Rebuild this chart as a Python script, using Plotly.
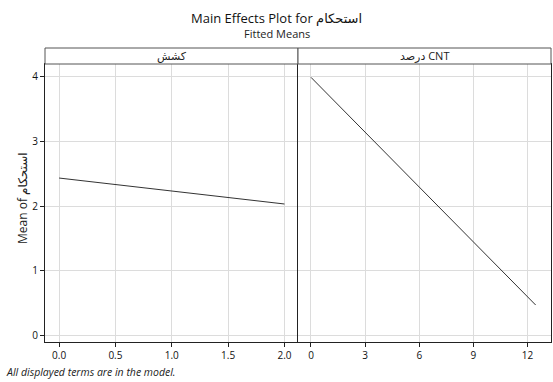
import plotly.graph_objects as go
from plotly.subplots import make_subplots

# Data
kashesh_levels = [0.0, 2.0]
kashesh_means = [2.435, 2.034]
cnt_levels = [0.0, 12.45]
cnt_means = [3.99, 0.474]

panel_titles = ["کشش", "درصد CNT"]
left_ticks = [0.0, 0.5, 1.0, 1.5, 2.0]
left_ticktext = ["0.0", "0.5", "1.0", "1.5", "2.0"]
right_ticks = [0, 3, 6, 9, 12]
y_ticks = [0, 1, 2, 3, 4]

FONT = "Open Sans, DejaVu Sans, sans-serif"
W, H = 553, 382
ML, MR, MT, MB = 45, 2, 64, 40
PH = H - MT - MB

fig = make_subplots(rows=1, cols=2, shared_yaxes=True, horizontal_spacing=0)

fig.add_trace(go.Scatter(x=kashesh_levels, y=kashesh_means, mode="lines",
                         line=dict(color="#333333", width=1), showlegend=False), row=1, col=1)
fig.add_trace(go.Scatter(x=cnt_levels, y=cnt_means, mode="lines",
                         line=dict(color="#333333", width=1), showlegend=False), row=1, col=2)

axis_common = dict(showline=True, linecolor="#222222", linewidth=1, mirror=True,
                   showgrid=True, gridcolor="#dcdcdc", gridwidth=1, zeroline=False,
                   ticks="outside", ticklen=4, tickcolor="#222222",
                   tickfont=dict(family=FONT, size=10, color="#111111"))

fig.update_xaxes(range=[-0.125, 2.12], tickvals=left_ticks, ticktext=left_ticktext,
                 **axis_common, row=1, col=1)
fig.update_xaxes(range=[-0.72, 13.3], tickvals=right_ticks, **axis_common, row=1, col=2)
fig.update_yaxes(range=[-0.097, 4.196], tickvals=y_ticks,
                 **{**axis_common, "mirror": False}, row=1, col=1)
fig.update_yaxes(range=[-0.097, 4.196], tickvals=y_ticks,
                 **{**axis_common, "ticks": ""}, row=1, col=2)

strip_h = 16 / PH
shapes = []
annotations = []
for i, t in enumerate(panel_titles):
    x0, x1 = i * 0.5, (i + 1) * 0.5
    shapes.append(dict(type="rect", xref="paper", yref="paper", x0=x0, x1=x1,
                       y0=1, y1=1 + strip_h, line=dict(color="#555555", width=1),
                       fillcolor="white"))
    annotations.append(dict(xref="paper", yref="paper", x=(x0 + x1) / 2, y=1 + strip_h / 2,
                            text=t, showarrow=False, xanchor="center", yanchor="middle",
                            font=dict(family=FONT, size=11, color="#222222")))

annotations += [
    dict(xref="paper", yref="paper", x=(W / 2 - ML) / (W - ML - MR), y=(H - MB - 18) / PH,
         text="Main Effects Plot for استحکام", showarrow=False, xanchor="center", yanchor="middle",
         font=dict(family=FONT, size=13, color="#111111")),
    dict(xref="paper", yref="paper", x=(W / 2 - ML) / (W - ML - MR), y=(H - MB - 33) / PH,
         text="Fitted Means", showarrow=False, xanchor="center", yanchor="middle",
         font=dict(family=FONT, size=11, color="#222222")),
    dict(xref="paper", yref="paper", x=(22 - ML) / (W - ML - MR), y=(H - MB - 198) / PH,
         text="Mean of استحکام", textangle=-90, showarrow=False, xanchor="center", yanchor="middle",
         font=dict(family=FONT, size=12, color="#222222")),
    dict(xref="paper", yref="paper", x=(4 - ML) / (W - ML - MR), y=(H - MB - 372) / PH,
         text="<i>All displayed terms are in the model.</i>", showarrow=False,
         xanchor="left", yanchor="middle",
         font=dict(family=FONT, size=10.5, color="#222222")),
]

fig.update_layout(width=W, height=H, margin=dict(l=ML, r=MR, t=MT, b=MB),
                  paper_bgcolor="white", plot_bgcolor="white",
                  shapes=shapes, annotations=annotations, showlegend=False)

fig.write_html("out.html")
